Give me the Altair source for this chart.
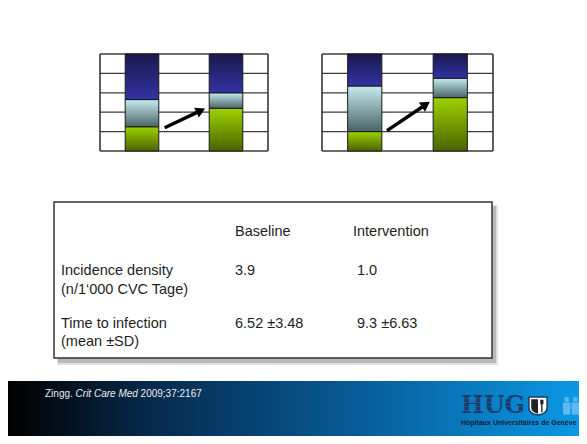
import math
import altair as alt
import pandas as pd

# ------------------------------------------------------------------ data
panel_names = ["Panel A", "Panel B"]
bar_names = ["Baseline", "Intervention"]
green_pct = [[25, 44], [20, 55]]
light_pct = [[28, 16], [47, 20]]
dark_pct = [[47, 40], [33, 25]]
grid_levels = [0, 20, 40, 60, 80, 100]
panel_edges = [-0.5, 1.5]
arrow_start_x = [0.27, 0.26]
arrow_start_y = [24, 21]
arrow_end_x = [0.70, 0.715]
arrow_end_y = [41.7, 48]

col_headers = ["Baseline", "Intervention"]
row_titles = ["Incidence density", "Time to infection"]
row_units = ["(n/1\u2018000 CVC Tage)", "(mean \u00b1SD)"]
baseline_values = ["3.9", "6.52 \u00b13.48"]
intervention_values = ["1.0", "9.3 \u00b16.63"]

citation_author = "Zingg."
citation_journal = "Crit Care Med"
citation_ref = "2009;37:2167"
logo_word = "HUG"
logo_sub = "H\u00f4pitaux Universitaires de Gen\u00e8ve"

# ------------------------------------------------------------------ layout / style
W, H = 571, 428
panel_x_ranges = [[92, 260], [314, 485]]
panel_y_range = [143, 46]
FONT = "Liberation Sans"


def vgrad(top, bottom):
    return alt.Gradient(
        gradient="linear",
        stops=[alt.GradientStop(color=top, offset=0), alt.GradientStop(color=bottom, offset=1)],
        x1=0, x2=0, y1=0, y2=1,
    )


SEG_STYLE = [
    ("green", green_pct, "#9dd100", "#4b6300"),
    ("light", light_pct, "#c6ecf0", "#4a6466"),
    ("dark", dark_pct, "#19194c", "#3232a4"),
]

one = pd.DataFrame({"k": [0]})


def panel(p):
    xs = alt.Scale(domain=[-0.5, 1.5], range=panel_x_ranges[p], nice=False, zero=False)
    ys = alt.Scale(domain=[0, 100], range=panel_y_range, nice=False, zero=False)
    rows = []
    for b in range(2):
        lo = 0
        for seg, vals, _, _ in SEG_STYLE:
            v = vals[p][b]
            rows.append(dict(panel=panel_names[p], bar=b, name=bar_names[b], seg=seg, lo=lo, hi=lo + v))
            lo += v
    df = pd.DataFrame(rows)

    grid = pd.DataFrame({"level": grid_levels})
    hrules = (
        alt.Chart(grid)
        .transform_calculate(a="-0.5", b="1.5")
        .mark_rule(color="#3c3c3c", strokeWidth=1.3)
        .encode(
            x=alt.X("a:Q", scale=xs, axis=None),
            x2="b:Q",
            y=alt.Y("level:Q", scale=ys, axis=None),
        )
    )
    edges = pd.DataFrame({"edge": panel_edges})
    vrules = (
        alt.Chart(edges)
        .transform_calculate(a="0", b="100")
        .mark_rule(color="#2a2a2a", strokeWidth=1.5)
        .encode(
            x=alt.X("edge:Q", scale=xs, axis=None),
            y=alt.Y("a:Q", scale=ys, axis=None),
            y2="b:Q",
        )
    )
    layers = [hrules, vrules]
    for seg, _, top, bottom in SEG_STYLE:
        layers.append(
            alt.Chart(df)
            .transform_filter(alt.datum.seg == seg)
            .transform_calculate(xl="datum.bar - 0.2", xr="datum.bar + 0.2")
            .mark_rect(color=vgrad(top, bottom), stroke="#1a1a1a", strokeWidth=1)
            .encode(
                x=alt.X("xl:Q", scale=xs, axis=None),
                x2="xr:Q",
                y=alt.Y("lo:Q", scale=ys, axis=None),
                y2="hi:Q",
            )
        )
    arr = pd.DataFrame({
        "x0": [arrow_start_x[p]], "y0": [arrow_start_y[p]],
        "x1": [arrow_end_x[p]], "y1": [arrow_end_y[p]],
    })
    sx = (panel_x_ranges[p][1] - panel_x_ranges[p][0]) / 2.0
    sy = (panel_y_range[0] - panel_y_range[1]) / 100.0
    dx = (arrow_end_x[p] - arrow_start_x[p]) * sx
    dy = (arrow_end_y[p] - arrow_start_y[p]) * sy
    ang = 90 - math.degrees(math.atan2(dy, dx))
    layers.append(
        alt.Chart(arr)
        .mark_rule(color="black", strokeWidth=3.5)
        .encode(
            x=alt.X("x0:Q", scale=xs, axis=None),
            y=alt.Y("y0:Q", scale=ys, axis=None),
            x2="x1:Q",
            y2="y1:Q",
        )
    )
    layers.append(
        alt.Chart(arr)
        .mark_point(shape="triangle-up", filled=True, color="black", opacity=1, size=120, angle=ang)
        .encode(
            x=alt.X("x1:Q", scale=xs, axis=None),
            y=alt.Y("y1:Q", scale=ys, axis=None),
        )
    )
    return alt.layer(*layers)


# ------------------------------------------------------------------ table
shadow_outer = alt.Chart(one).mark_rect(color="#e2e2e2").encode(
    x=alt.value(49), x2=alt.value(490), y=alt.value(197), y2=alt.value(357)
)
shadow_inner = alt.Chart(one).mark_rect(color="#b9b9b9").encode(
    x=alt.value(50), x2=alt.value(488), y=alt.value(198), y2=alt.value(355)
)
box = alt.Chart(one).mark_rect(color="white", stroke="#333333", strokeWidth=1.5).encode(
    x=alt.value(46), x2=alt.value(484), y=alt.value(194), y2=alt.value(350)
)

cells = []
for j, h in enumerate(col_headers):
    cells.append(dict(col=j + 1, row=0, txt=h, kind="head"))
for i in range(2):
    cells.append(dict(col=0, row=1 + 2 * i, txt=row_titles[i], kind="label"))
    cells.append(dict(col=0, row=2 + 2 * i, txt=row_units[i], kind="label"))
    cells.append(dict(col=1, row=1 + 2 * i, txt=baseline_values[i], kind="base"))
    cells.append(dict(col=2, row=1 + 2 * i, txt=intervention_values[i], kind="interv"))
cells_df = pd.DataFrame(cells)

tx = alt.Scale(domain=[0, 1, 2], range=[53, 227, 345], nice=False, zero=False)
ty = alt.Scale(domain=[0, 1, 2, 3, 4], range=[224, 263, 282, 316, 334], nice=False, zero=False)


def table_text(filt, dx):
    return (
        alt.Chart(cells_df)
        .transform_filter(filt)
        .mark_text(align="left", baseline="middle", fontSize=14.5, font=FONT, color="#1e1e1e", dx=dx)
        .encode(
            x=alt.X("col:Q", scale=tx, axis=None),
            y=alt.Y("row:Q", scale=ty, axis=None),
            text="txt:N",
        )
    )


table = alt.layer(
    shadow_outer, shadow_inner, box,
    table_text(alt.datum.kind != "interv", 0),
    table_text(alt.datum.kind == "interv", 4),
)

# ------------------------------------------------------------------ footer
footer_bg = alt.Chart(one).mark_rect(
    color=alt.Gradient(
        gradient="linear",
        stops=[
            alt.GradientStop(color="#000000", offset=0),
            alt.GradientStop(color="#062a4c", offset=0.25),
            alt.GradientStop(color="#075a96", offset=0.6),
            alt.GradientStop(color="#0a98e4", offset=1),
        ],
        x1=0, x2=1, y1=0, y2=0,
    )
).encode(x=alt.value(0), x2=alt.value(W), y=alt.value(373), y2=alt.value(H))

cite_a = alt.Chart(pd.DataFrame({"t": [citation_author]})).mark_text(
    align="left", baseline="middle", fontSize=10, font=FONT, color="#eeeeee"
).encode(x=alt.value(37), y=alt.value(386), text="t:N")
cite_b = alt.Chart(pd.DataFrame({"t": [citation_journal]})).mark_text(
    align="left", baseline="middle", fontSize=10, font=FONT, fontStyle="italic", color="#eeeeee"
).encode(x=alt.value(67.6), y=alt.value(386), text="t:N")
cite_c = alt.Chart(pd.DataFrame({"t": [citation_ref]})).mark_text(
    align="left", baseline="middle", fontSize=10, font=FONT, color="#eeeeee"
).encode(x=alt.value(132.6), y=alt.value(386), text="t:N")

logo_txt = alt.Chart(pd.DataFrame({"t": [logo_word]})).mark_text(
    align="left", baseline="alphabetic", fontSize=24, font="DejaVu Serif", fontWeight="bold", color="#1f3868"
).encode(x=alt.value(453), y=alt.value(405), text="t:N")
stripe_df = pd.DataFrame({"k": [0, 1, 2, 3]})
stripes = alt.Chart(stripe_df).transform_calculate(
    yy="390.5 + datum.k * 4"
).mark_rule(color="#0a7cc0", strokeWidth=0.8, opacity=0.7).encode(
    x=alt.value(452), x2=alt.value(520),
    y=alt.Y("yy:Q", scale=alt.Scale(domain=[0, H], range=[0, H], nice=False, zero=False), axis=None),
)
logo_sub_txt = alt.Chart(pd.DataFrame({"t": [logo_sub]})).mark_text(
    align="left", baseline="middle", fontSize=7, font=FONT, fontWeight="bold", color="#14203a"
).encode(x=alt.value(453), y=alt.value(415), text="t:N")
shield = alt.Chart(one).mark_point(
    shape="M-1,-1 L1,-1 L1,0.2 Q1,0.85 0,1 Q-1,0.85 -1,0.2 Z",
    filled=True, fill="white", stroke="#1f3868", strokeWidth=1.5, opacity=1, size=330,
).encode(x=alt.value(530), y=alt.value(398))
shield_left = alt.Chart(one).mark_point(
    shape="M-0.75,-0.75 L0,-0.75 L0,0.85 Q-0.75,0.7 -0.75,0.15 Z",
    filled=True, fill="#222222", opacity=1, size=330,
).encode(x=alt.value(530), y=alt.value(398))
shield_key = alt.Chart(one).mark_point(
    shape="M0.25,-0.7 L0.6,-0.7 L0.6,-0.2 L0.5,-0.2 L0.5,0.7 L0.35,0.7 L0.35,-0.2 L0.25,-0.2 Z",
    filled=True, fill="#222222", opacity=1, size=330,
).encode(x=alt.value(530), y=alt.value(398))
people = alt.Chart(one).mark_point(
    shape=(
        "M-0.75,-1 L-0.25,-1 L-0.25,-0.5 L-0.75,-0.5 Z "
        "M-0.95,-0.4 L-0.05,-0.4 L-0.1,1 L-0.9,1 Z "
        "M0.25,-1 L0.75,-1 L0.75,-0.5 L0.25,-0.5 Z "
        "M0.05,-0.4 L0.95,-0.4 L0.9,1 L0.1,1 Z"
    ),
    filled=True, fill="#5fb8f0", opacity=1, size=300,
).encode(x=alt.value(563), y=alt.value(398))

footer = alt.layer(
    footer_bg, cite_a, cite_b, cite_c, logo_txt, stripes, logo_sub_txt,
    shield, shield_left, shield_key, people,
)

chart = (
    alt.layer(panel(0), panel(1), table, footer)
    .resolve_scale(x="independent", y="independent")
    .properties(width=W, height=H, autosize=alt.AutoSizeParams(type="none"), padding=0, background="white")
    .configure_view(strokeWidth=0)
)

chart.save("out.html", embed_options={"renderer": "svg", "actions": False})
